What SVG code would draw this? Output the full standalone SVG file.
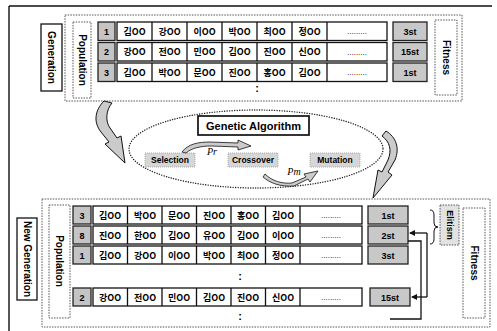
<svg xmlns="http://www.w3.org/2000/svg" width="497" height="331" viewBox="0 0 497 331">
<defs>
<style>
text{font-family:"Liberation Sans",Arial,sans-serif;font-weight:bold;fill:#000;text-anchor:middle}
.kr{font-family:"Noto Sans CJK KR","Liberation Sans",sans-serif;font-size:9px;font-weight:bold}
.lab{font-size:10px}
.sm{font-size:9px}
.cell{fill:#fff;stroke:#111;stroke-width:1.3}
.num{fill:#c4c4c4;stroke:#222;stroke-width:1.3}
.fit{fill:#c8c8c8;stroke:#222;stroke-width:1.3}
.op{fill:#d6d6d6;stroke:#9a9a9a;stroke-width:0.8;stroke-dasharray:1 1}
.dbox{fill:#fff;stroke:#555;stroke-width:1;stroke-dasharray:1.5 1.2}
.frame{fill:none;stroke:#555;stroke-width:1;stroke-dasharray:1.5 1.2}
.sbox{fill:#fff;stroke:#111;stroke-width:1.3}
.dots{font-size:8px;font-weight:normal}
.big{fill:#cbcbcb;stroke:#111;stroke-width:1}
.line{fill:none;stroke:#111;stroke-width:1.3}
</style>
<marker id="ah" markerWidth="6" markerHeight="6" refX="5" refY="3" orient="auto" markerUnits="userSpaceOnUse">
<path d="M0,0 L6,3 L0,6 Z" fill="#111"/>
</marker>
</defs>
<rect width="497" height="331" fill="#fff"/>
<path d="M9,6 H492 M9,6 V331" fill="none" stroke="#111" stroke-width="1.4"/>

<!-- top section -->
<rect class="frame" x="65" y="15" width="397" height="86"/>
<g id="generation">
<rect class="sbox" x="41" y="24" width="21" height="67"/>
<text class="lab" transform="translate(51.5,57.5) rotate(90)" y="3.5">Generation</text>
</g>
<g id="population-top">
<rect class="dbox" x="73" y="22" width="18" height="76"/>
<text class="lab" transform="translate(82,60) rotate(90)" y="3.5">Population</text>
</g>
<g id="top-row-1">
<rect class="num" x="98" y="22" width="17" height="18.5"/><text class="sm" x="106.5" y="34.5">1</text>
<rect class="cell" x="117" y="22" width="270" height="18.5"/>
<path d="M152,22 V40.5 M187,22 V40.5 M222,22 V40.5 M257,22 V40.5 M292,22 V40.5 M327,22 V40.5" class="line"/>
<text class="kr" x="134.5" y="34.5">김OO</text><text class="kr" x="169.5" y="34.5">강OO</text><text class="kr" x="204.5" y="34.5">이OO</text><text class="kr" x="239.5" y="34.5">박OO</text><text class="kr" x="274.5" y="34.5">최OO</text><text class="kr" x="309.5" y="34.5">정OO</text>
<text class="dots" x="357" y="34">.........</text>
<rect class="fit" x="393" y="22" width="34" height="18.5"/><text class="sm" x="410" y="34.5">3st</text>
</g>
<g id="top-row-2">
<rect class="num" x="98" y="42.5" width="17" height="18.5"/><text class="sm" x="106.5" y="55">2</text>
<rect class="cell" x="117" y="42.5" width="270" height="18.5"/>
<path d="M152,42.5 V61 M187,42.5 V61 M222,42.5 V61 M257,42.5 V61 M292,42.5 V61 M327,42.5 V61" class="line"/>
<text class="kr" x="134.5" y="55">강OO</text><text class="kr" x="169.5" y="55">전OO</text><text class="kr" x="204.5" y="55">민OO</text><text class="kr" x="239.5" y="55">김OO</text><text class="kr" x="274.5" y="55">진OO</text><text class="kr" x="309.5" y="55">신OO</text>
<text class="dots" x="357" y="54.5">.........</text>
<rect class="fit" x="393" y="42.5" width="34" height="18.5"/><text class="sm" x="410" y="55">15st</text>
</g>
<g id="top-row-3">
<rect class="num" x="98" y="63" width="17" height="18.5"/><text class="sm" x="106.5" y="75.5">3</text>
<rect class="cell" x="117" y="63" width="270" height="18.5"/>
<path d="M152,63 V81.5 M187,63 V81.5 M222,63 V81.5 M257,63 V81.5 M292,63 V81.5 M327,63 V81.5" class="line"/>
<text class="kr" x="134.5" y="75.5">김OO</text><text class="kr" x="169.5" y="75.5">박OO</text><text class="kr" x="204.5" y="75.5">문OO</text><text class="kr" x="239.5" y="75.5">진OO</text><text class="kr" x="274.5" y="75.5">홍OO</text><text class="kr" x="309.5" y="75.5">김OO</text>
<text class="dots" x="357" y="75">.........</text>
<rect class="fit" x="393" y="63" width="34" height="18.5"/><text class="sm" x="410" y="75.5">1st</text>
</g>
<text x="257" y="92" style="font-size:11px">:</text>
<g id="fitness-top">
<rect class="dbox" x="435" y="20" width="22" height="75"/>
<text class="lab" transform="translate(446,57.5) rotate(90)" y="3.5">Fitness</text>
</g>

<!-- GA -->
<ellipse cx="256" cy="149" rx="127" ry="39" fill="none" stroke="#222" stroke-width="1.4" stroke-dasharray="0.1 2.4" stroke-linecap="round"/>
<g id="genetic-algorithm">
<rect class="sbox" x="198" y="116" width="111" height="19" style="stroke-width:1.7"/>
<text x="253.5" y="129.5" style="font-size:11px">Genetic Algorithm</text>
</g>
<g id="selection">
<rect class="op" x="145" y="153" width="50" height="14"/>
<text x="170" y="163" style="font-size:8.5px">Selection</text>
</g>
<g id="crossover">
<rect class="op" x="228" y="153" width="50" height="14"/>
<text x="253" y="163" style="font-size:8.5px">Crossover</text>
</g>
<g id="mutation">
<rect class="op" x="310" y="153" width="50" height="14"/>
<text x="335" y="163" style="font-size:8.5px">Mutation</text>
</g>
<text x="212" y="155" style="font-family:'Liberation Serif',serif;font-style:italic;font-weight:normal;font-size:10px">Pr</text>
<text x="294" y="175" style="font-family:'Liberation Serif',serif;font-style:italic;font-weight:normal;font-size:10px">Pm</text>

<!-- bottom section -->
<rect class="frame" x="42" y="199" width="448" height="128"/>
<g id="new-generation">
<rect class="sbox" x="17" y="218" width="20" height="82"/>
<text class="lab" transform="translate(27,259) rotate(90)" y="3.5">New Generation</text>
</g>
<g id="population-bottom">
<rect class="dbox" x="49" y="205" width="21" height="113"/>
<text class="lab" transform="translate(59.5,261) rotate(90)" y="3.5">Population</text>
</g>
<g id="new-row-1">
<rect class="num" x="73" y="206" width="18" height="18"/><text class="sm" x="82" y="218.5">3</text>
<rect class="cell" x="93" y="206" width="269" height="18"/>
<path d="M127.5,206 V224 M162,206 V224 M196.5,206 V224 M231,206 V224 M265.5,206 V224 M300,206 V224" class="line"/>
<text class="kr" x="110" y="218.5">김OO</text><text class="kr" x="145" y="218.5">박OO</text><text class="kr" x="179" y="218.5">문OO</text><text class="kr" x="214" y="218.5">진OO</text><text class="kr" x="248" y="218.5">홍OO</text><text class="kr" x="283" y="218.5">김OO</text>
<text class="dots" x="331" y="218">.........</text>
<rect class="fit" x="368" y="206" width="40" height="18"/><text class="sm" x="388" y="218.5">1st</text>
</g>
<g id="new-row-2">
<rect class="num" x="73" y="226" width="18" height="18"/><text class="sm" x="82" y="238.5">8</text>
<rect class="cell" x="93" y="226" width="269" height="18"/>
<path d="M127.5,226 V244 M162,226 V244 M196.5,226 V244 M231,226 V244 M265.5,226 V244 M300,226 V244" class="line"/>
<text class="kr" x="110" y="238.5">진OO</text><text class="kr" x="145" y="238.5">한OO</text><text class="kr" x="179" y="238.5">김OO</text><text class="kr" x="214" y="238.5">유OO</text><text class="kr" x="248" y="238.5">김OO</text><text class="kr" x="283" y="238.5">이OO</text>
<text class="dots" x="331" y="238">.........</text>
<rect class="fit" x="368" y="226" width="40" height="18"/><text class="sm" x="388" y="238.5">2st</text>
</g>
<g id="new-row-3">
<rect class="num" x="73" y="246" width="18" height="18"/><text class="sm" x="82" y="258.5">1</text>
<rect class="cell" x="93" y="246" width="269" height="18"/>
<path d="M127.5,246 V264 M162,246 V264 M196.5,246 V264 M231,246 V264 M265.5,246 V264 M300,246 V264" class="line"/>
<text class="kr" x="110" y="258.5">김OO</text><text class="kr" x="145" y="258.5">강OO</text><text class="kr" x="179" y="258.5">이OO</text><text class="kr" x="214" y="258.5">박OO</text><text class="kr" x="248" y="258.5">최OO</text><text class="kr" x="283" y="258.5">정OO</text>
<text class="dots" x="331" y="258">.........</text>
<rect class="fit" x="368" y="246" width="40" height="18"/><text class="sm" x="388" y="258.5">3st</text>
</g>
<text x="240" y="280" style="font-size:11px">:</text>
<g id="new-row-4">
<rect class="num" x="73" y="288" width="18" height="18"/><text class="sm" x="82" y="300.5">2</text>
<rect class="cell" x="93" y="288" width="269" height="18"/>
<path d="M127.5,288 V306 M162,288 V306 M196.5,288 V306 M231,288 V306 M265.5,288 V306 M300,288 V306" class="line"/>
<text class="kr" x="110" y="300.5">강OO</text><text class="kr" x="145" y="300.5">전OO</text><text class="kr" x="179" y="300.5">민OO</text><text class="kr" x="214" y="300.5">김OO</text><text class="kr" x="248" y="300.5">진OO</text><text class="kr" x="283" y="300.5">신OO</text>
<text class="dots" x="331" y="300">.........</text>
<rect class="fit" x="370" y="288" width="40" height="18"/><text class="sm" x="390" y="300.5">15st</text>
</g>
<text x="240" y="320" style="font-size:11px">:</text>
<g id="elitism">
<path d="M430,210 q4,0 4,5 v8 q0,4 4,4 q-4,0 -4,4 v8 q0,5 -4,5" fill="none" stroke="#111" stroke-width="1"/>
<rect class="dbox" x="440" y="205" width="19" height="40" style="fill:#e2e2e2"/>
<text class="sm" transform="translate(449.5,225) rotate(90)" y="3">Elitism</text>
</g>
<g id="fitness-bottom">
<rect class="dbox" x="463" y="208" width="22" height="110"/>
<text class="lab" transform="translate(474,263) rotate(90)" y="3.5">Fitness</text>
</g>

<g id="connectors">
<path class="big" d="M104,101 C95,110 93,122 101,132 L109,142 L105,144 L125,163 L121,136 L117,138 L110,128 C105,121 106,110 112,103 Z"/>
<path class="big" d="M386,131 C396,137 400,148 395,160 L388,172 L392,175 L373,198 L378,170 L382,172 L388,160 C392,150 390,142 382,136 Z"/>
<path class="big" d="M182,152 C188,144 198,142 210,142 L238,143 L238,140 L251,146 L238,150 L238,147 L212,146 C200,146 192,148 186,153 Z" style="stroke-width:0.8"/>
<path class="big" d="M265,174 C272,181 282,184 292,183 L306,177 L304,174 L318,171 L310,182 L308,179 L294,186 C280,187 270,183 263,177 Z" style="stroke-width:0.8"/>
<path class="line" d="M427,233 H410" marker-end="url(#ah)"/>
<path class="line" d="M427,233 V297"/>
<path class="line" d="M427,297 H412" marker-end="url(#ah)"/>
<path class="line" d="M408,241 H421 V319 H390"/>
</g>
</svg>
